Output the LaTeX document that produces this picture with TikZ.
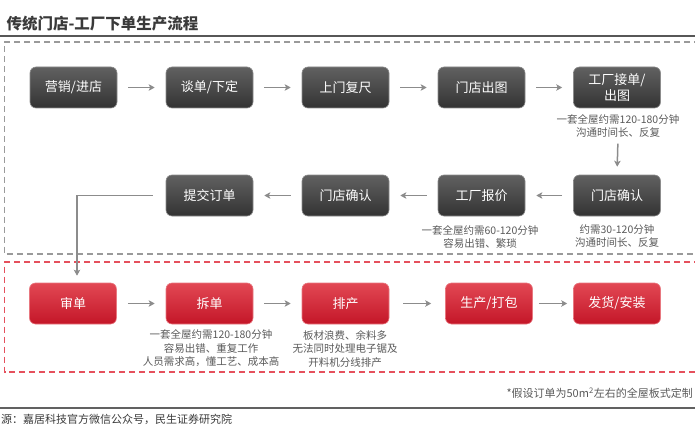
\documentclass[tikz,border=0pt]{standalone}
\usepackage{fontspec}
\setmainfont{Noto Sans CJK SC}
\usetikzlibrary{arrows.meta}

\definecolor{titlegray}{HTML}{3A3A3A}
\definecolor{notegray}{HTML}{5A5A5A}
\definecolor{arrowgray}{HTML}{8C8C8C}
\definecolor{dashgray}{HTML}{9A9A9A}
\definecolor{dashred}{HTML}{E5505C}

\tikzset{
  darkbox/.style={rounded corners=6pt, minimum width=87pt, minimum height=41pt,
    top color=black!62, bottom color=black!80, draw=black!45, line width=0.6pt,
    text=white, font=\fontsize{13}{15}\selectfont, align=center},
  redbox/.style={rounded corners=6pt, minimum width=87pt, minimum height=41pt,
    top color={rgb,255:red,226;green,72;blue,84}, bottom color={rgb,255:red,196;green,22;blue,40},
    draw={rgb,255:red,232;green,120;blue,128}, line width=0.6pt,
    text=white, font=\fontsize{13}{15}\selectfont},
  note/.style={text=notegray, font=\fontsize{10.5}{13}\selectfont, align=center, inner sep=0pt},
  flow/.style={draw=arrowgray, line width=1.5pt, -{Stealth[length=6pt,width=6.5pt,inset=1.5pt]},
    shorten >=11pt, shorten <=11pt},
}

\begin{document}
\begin{tikzpicture}[x=1pt, y=-1pt]
    \clip (0,0) rectangle (695,425);

    % title
    \node[anchor=west, text=titlegray, font=\fontsize{15.5}{16}\selectfont\bfseries] (title) at (3,24) {传统门店-工厂下单生产流程};
    \draw[titlegray!85, line width=2pt] (0,36.5) -- (695,36.5);

    % dashed frames
    \draw[dashgray, line width=1.4pt, dash pattern=on 6pt off 4pt] (720,42) -- (4.5,42) -- (4.5,254) -- (720,254);
    \draw[dashred, line width=1.4pt, dash pattern=on 6pt off 4pt] (720,262) -- (4.5,262) -- (4.5,372) -- (720,372);

    % row 1
    \node[darkbox] (yx) at (73.5,87.5) {营销/进店};
    \node[darkbox] (td) at (209.5,87.5) {谈单/下定};
    \node[darkbox] (sm) at (345.5,87.5) {上门复尺};
    \node[darkbox] (mc) at (481.5,87.5) {门店出图};
    \node[darkbox, font=\fontsize{13}{15.5}\selectfont] (gj) at (617,87.5) {工厂接单/\\出图};
    \node[note] (gjnote) at (618,126) {一套全屋约需120-180分钟\\沟通时间长、反复};

    % row 2
    \node[darkbox] (mq1) at (617,195.5) {门店确认};
    \node[darkbox] (bj) at (481.5,195.5) {工厂报价};
    \node[darkbox] (mq2) at (345.5,195.5) {门店确认};
    \node[darkbox] (tj) at (209.5,195.5) {提交订单};
    \node[note] (bjnote) at (480,236.5) {一套全屋约需60-120分钟\\容易出错、繁琐};
    \node[note] (mqnote) at (617,236.5) {约需30-120分钟\\沟通时间长、反复};

    % row 3
    \node[redbox] (sd) at (73,303.5) {审单};
    \node[redbox] (cd) at (209.5,303.5) {拆单};
    \node[redbox] (pc) at (345.5,303.5) {排产};
    \node[redbox] (sc) at (489,303.5) {生产/打包};
    \node[redbox] (fh) at (617,303.5) {发货/安装};
    \node[note, font=\fontsize{10.5}{13.5}\selectfont] (cdnote) at (211,348.5) {一套全屋约需120-180分钟\\容易出错、重复工作\\人员需求高，懂工艺、成本高};
    \node[note, font=\fontsize{10.5}{13.5}\selectfont] (pcnote) at (345,348.5) {板材浪费、余料多\\无法同时处理电子锯及\\开料机分线排产};

    % arrows
    \draw[flow] (yx) -- (td);
    \draw[flow] (td) -- (sm);
    \draw[flow] (sm) -- (mc);
    \draw[flow] (mc) -- (gj);
    \draw[flow, shorten <=6pt, shorten >=8pt] (gjnote.south) -- (mq1.north);
    \draw[flow] (mq1) -- (bj);
    \draw[flow] (bj) -- (mq2);
    \draw[flow] (mq2) -- (tj);
    \draw[flow, shorten <=13pt, shorten >=7pt] (tj.west) -| ([xshift=4pt]sd.north);
    \draw[flow] (sd) -- (cd);
    \draw[flow] (cd) -- (pc);
    \draw[flow, shorten <=14pt, shorten >=14pt] (pc) -- (sc);
    \draw[flow, shorten <=6pt, shorten >=6pt] (sc) -- (fh);

    % footnote and source
    \node[note, anchor=east, font=\fontsize{11}{13}\selectfont] (foot) at (693,393) {*假设订单为50m\textsuperscript{2}左右的全屋板式定制};
    \draw[titlegray!80, line width=2pt] (0,408) -- (695,408);
    \node[anchor=west, inner sep=0pt, text=titlegray, font=\fontsize{11}{13}\selectfont] (src) at (1,419.5) {源：嘉居科技官方微信公众号，民生证券研究院};
\end{tikzpicture}
\end{document}
